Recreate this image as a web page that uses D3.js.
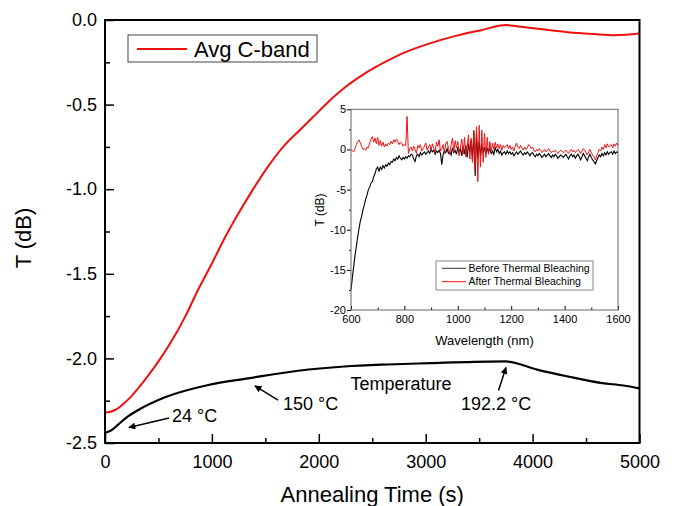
<!DOCTYPE html>
<html>
<head>
<meta charset="utf-8">
<script src="https://cdn.jsdelivr.net/npm/d3@7"></script>
<style>
body { margin:0; background:#fff; }
svg { display:block; font-family:"Liberation Sans", Arial, sans-serif; }
</style>
</head>
<body>
<div id="chart"></div>
<script>
// main chart: average C-band transmission while annealing
var cbandTime = [0,50,110,170,230,300,370,510,630,750,870,1000,1110,1230,1360,1510,1680,1840,2000,2120,2240,2440,2640,2800,3040,3280,3520,3750,3930,4090,4330,4570,4770,5000]
var cbandT = [-2.32,-2.315,-2.30,-2.27,-2.235,-2.185,-2.13,-2.009,-1.89,-1.753,-1.596,-1.439,-1.30,-1.163,-1.026,-0.88,-0.74,-0.64,-0.54,-0.465,-0.40,-0.312,-0.242,-0.193,-0.138,-0.094,-0.060,-0.030,-0.043,-0.055,-0.072,-0.083,-0.09,-0.08]

// temperature trace (drawn on the same axes)
var tempTime = [0,60,125,200,312,561,966,1340,1807,2240,2640,3040,3450,3750,4050,4330,4650,4850,5000]
var tempT = [-2.44,-2.425,-2.39,-2.35,-2.305,-2.23,-2.157,-2.118,-2.073,-2.048,-2.036,-2.028,-2.02,-2.018,-2.068,-2.107,-2.146,-2.16,-2.177]

var xTicks = [0,1000,2000,3000,4000,5000]
var xMinor = [500,1500,2500,3500,4500]
var yTicks = [0,-0.5,-1.0,-1.5,-2.0,-2.5]
var yMinor = [-0.25,-0.75,-1.25,-1.75,-2.25]

var notes = [
    { label:'Temperature', t:2297, v:-2.187 },
    { label:'150 °C', t:1665, v:-2.305, from:[1618,-2.246], to:[1403,-2.163] },
    { label:'192.2 °C', t:3330, v:-2.305, from:[3681,-2.19], to:[3751,-2.054] },
    { label:'24 °C', t:627, v:-2.374, from:[599,-2.352], to:[224,-2.408] }
]

// inset: spectrum before / after thermal bleaching, 600-1600 nm every 5 nm
var wavelength = d3.range(600, 1601, 5)
var beforeT = [
    -17.5,-16.0,-14.6,-13.2,-12.1,-10.9,-9.9,-8.9,-8.3,-7.5,
    -6.9,-6.2,-5.7,-5.0,-4.7,-4.2,-4.0,-3.4,-3.0,-2.4,
    -2.2,-2.7,-2.2,-2.5,-2.0,-2.3,-1.9,-2.1,-1.7,-1.9,
    -1.5,-1.6,-1.2,-1.4,-1.0,-1.2,-0.8,-1.1,-1.3,-1.0,
    -1.2,-0.9,-1.1,-0.8,-0.9,-0.6,-0.7,-1.2,-1.5,-0.8,
    -0.6,-0.9,-0.4,-0.7,-0.5,-0.3,-0.6,-0.4,-0.2,-0.5,
    0.0,-0.3,-0.1,-0.6,-0.2,-0.4,-0.1,-0.5,-1.9,-0.6,
    -0.2,-0.4,0.1,-0.5,-0.3,-0.7,0.2,-0.4,-0.1,-0.6,
    0.3,-0.5,0.2,-0.8,0.4,-0.6,0.5,-1.0,0.7,-0.4,
    1.2,-1.5,2.4,-3.3,2.0,-1.2,1.0,-0.8,0.6,-0.5,
    0.3,-0.6,0.2,-0.4,0.1,-0.5,-0.2,-0.6,0.3,-0.3,
    0.0,-0.5,-0.2,-0.7,-0.4,-0.3,-0.6,-0.2,-0.5,-0.3,
    -0.6,-0.4,-0.8,-0.5,-0.3,-0.6,-0.4,-0.2,-0.5,-0.7,
    -0.4,-0.6,-0.3,-0.5,-0.8,-0.5,-0.4,-0.7,-0.9,-0.6,
    -0.8,-0.5,-0.7,-1.0,-0.8,-0.6,-0.9,-0.7,-0.5,-0.8,
    -1.0,-0.7,-0.9,-0.6,-0.8,-1.1,-0.9,-0.7,-0.8,-1.0,
    -0.8,-0.6,-0.9,-1.2,-0.8,-0.6,-0.9,-0.7,-1.1,-0.8,
    -0.6,-0.9,-1.3,-0.9,-0.5,-0.8,-1.1,-1.4,-0.9,-0.6,
    -1.0,-1.3,-1.5,-1.8,-1.4,-1.0,-0.7,-0.9,-0.5,-0.8,
    -0.4,-0.7,-0.3,-0.6,-0.4,-0.3,-0.6,-0.2,-0.5,-0.3,
    -0.4]
var afterT = [
    0.0,-0.2,-0.3,0.1,0.6,1.0,1.2,0.8,0.4,0.0,
    0.1,-0.1,0.3,0.2,0.8,1.3,1.6,0.9,1.4,0.7,
    1.5,0.5,1.1,0.4,0.9,0.3,0.7,0.4,0.8,0.6,
    1.0,0.7,1.2,0.9,1.3,1.0,0.6,0.9,0.8,0.4,
    0.6,0.5,4.1,-0.5,0.1,0.3,-0.2,0.4,0.0,-0.5,
    0.5,0.2,0.6,-0.2,0.1,0.4,0.8,-0.1,0.3,0.6,
    -0.1,0.7,0.2,-0.4,0.9,0.4,1.2,-0.2,0.1,0.6,
    -0.5,0.8,1.0,0.1,-0.6,0.7,1.4,-0.3,1.1,0.2,
    1.0,-0.8,0.3,1.3,-0.6,1.5,-0.9,0.4,1.8,-1.2,
    1.4,-1.6,2.2,-2.6,2.8,-4.0,3.0,-2.2,2.4,-1.6,
    2.0,-1.0,1.5,-0.6,1.0,-0.2,0.8,0.0,0.9,0.2,
    0.7,0.1,0.6,-0.1,0.5,0.2,0.4,0.6,0.1,0.5,
    0.0,0.3,-0.2,0.4,0.8,0.3,0.1,0.5,0.2,-0.1,
    0.3,0.0,0.2,0.6,0.4,0.1,0.3,-0.1,-0.3,0.0,
    -0.2,0.1,-0.1,-0.4,-0.2,0.0,-0.3,-0.1,0.1,-0.2,
    -0.4,-0.2,-0.3,-0.1,-0.3,-0.5,-0.3,-0.1,-0.2,-0.4,
    -0.3,-0.1,-0.3,-0.5,-0.2,0.0,-0.3,-0.1,-0.4,-0.2,
    0.0,-0.2,-0.5,-0.2,0.1,-0.1,-0.4,-0.7,-0.3,0.0,
    -0.4,-0.7,-0.9,-1.3,-0.8,-0.4,0.0,-0.2,0.3,0.0,
    0.6,0.2,0.7,0.3,0.5,0.6,0.2,0.7,0.4,0.8,
    0.5]

var wlTicks = [600,800,1000,1200,1400,1600]
var wlMinor = [700,900,1100,1300,1500]
var insetTicks = [5,0,-5,-10,-15,-20]
var insetMinor = [2.5,-2.5,-7.5,-12.5,-17.5]

var width = 674, height = 506
var plot = { left:105, right:639.5, top:20, bottom:443 }
var inset = { left:351, right:618, top:109.3, bottom:310 }

var svg = d3.select('#chart').append('svg')
    .attr('width', width)
    .attr('height', height)

svg.append('defs').append('marker')
    .attr('id', 'arrow')
    .attr('viewBox', '0 0 10 10')
    .attr('refX', 9).attr('refY', 5)
    .attr('markerWidth', 9).attr('markerHeight', 7)
    .attr('markerUnits', 'userSpaceOnUse')
    .attr('orient', 'auto')
    .append('path')
        .attr('d', 'M0,0 L10,5 L0,10 z')
        .attr('fill', '#000')

var x = d3.scaleLinear().domain([0, 5000]).range([plot.left, plot.right])
var y = d3.scaleLinear().domain([-2.5, 0]).range([plot.bottom, plot.top])

function styleAxis(g, size, sw){
    g.select('.domain').remove()
    g.selectAll('line').attr('stroke', '#000').attr('stroke-width', sw)
    g.selectAll('text').attr('fill', '#000').attr('font-size', size)
        .attr('font-family', '"Liberation Sans", Arial, sans-serif')
}

// main axes, ticks pointing into the plot
svg.append('g')
    .attr('transform', 'translate(0,' + plot.bottom + ')')
    .call(d3.axisBottom(x).tickValues(xTicks).tickSizeInner(-9).tickSizeOuter(0).tickPadding(12)
        .tickFormat(function(d){ return String(d) }))
    .call(styleAxis, 18, 1.5)
svg.append('g')
    .attr('transform', 'translate(0,' + plot.bottom + ')')
    .call(d3.axisBottom(x).tickValues(xMinor).tickSizeInner(-5).tickSizeOuter(0).tickFormat(''))
    .call(styleAxis, 18, 1.5)
svg.append('g')
    .attr('transform', 'translate(' + plot.left + ',0)')
    .call(d3.axisLeft(y).tickValues(yTicks).tickSizeInner(-9).tickSizeOuter(0).tickPadding(8)
        .tickFormat(function(d){ return d.toFixed(1) }))
    .call(styleAxis, 18, 1.5)
svg.append('g')
    .attr('transform', 'translate(' + plot.left + ',0)')
    .call(d3.axisLeft(y).tickValues(yMinor).tickSizeInner(-5).tickSizeOuter(0).tickFormat(''))
    .call(styleAxis, 18, 1.5)

var mainLine = d3.line()
    .x(function(d){ return x(d[0]) })
    .y(function(d){ return y(d[1]) })
    .curve(d3.curveMonotoneX)

svg.append('path')
    .datum(d3.zip(tempTime, tempT))
    .attr('d', mainLine)
    .attr('fill', 'none')
    .attr('stroke', '#000')
    .attr('stroke-width', 2.2)

svg.append('path')
    .datum(d3.zip(cbandTime, cbandT))
    .attr('d', mainLine)
    .attr('fill', 'none')
    .attr('stroke', '#f01010')
    .attr('stroke-width', 2)

svg.append('rect')
    .attr('x', plot.left).attr('y', plot.top)
    .attr('width', plot.right - plot.left)
    .attr('height', plot.bottom - plot.top)
    .attr('fill', 'none')
    .attr('stroke', '#000')
    .attr('stroke-width', 2)

// axis titles
svg.append('text')
    .attr('x', (plot.left + plot.right) / 2)
    .attr('y', 502)
    .attr('text-anchor', 'middle')
    .attr('font-size', 22)
    .text('Annealing Time (s)')
svg.append('text')
    .attr('transform', 'translate(31,238) rotate(-90)')
    .attr('text-anchor', 'middle')
    .attr('font-size', 22)
    .text('T (dB)')

// legend
var legend = svg.append('g')
legend.append('rect')
    .attr('x', 128).attr('y', 35).attr('width', 189).attr('height', 27)
    .attr('fill', '#fff').attr('stroke', '#444').attr('stroke-width', 1)
legend.append('line')
    .attr('x1', 137).attr('x2', 187).attr('y1', 49).attr('y2', 49)
    .attr('stroke', '#f01010').attr('stroke-width', 2)
legend.append('text')
    .attr('x', 194).attr('y', 56.5)
    .attr('font-size', 22)
    .text('Avg C-band')

// annotations
notes.forEach(function(n){
    svg.append('text')
        .attr('x', x(n.t)).attr('y', y(n.v))
        .attr('font-size', 18)
        .text(n.label)
    if (n.from){
        svg.append('line')
            .attr('x1', x(n.from[0])).attr('y1', y(n.from[1]))
            .attr('x2', x(n.to[0])).attr('y2', y(n.to[1]))
            .attr('stroke', '#000').attr('stroke-width', 1.5)
            .attr('marker-end', 'url(#arrow)')
    }
})

// inset
var ix = d3.scaleLinear().domain([600, 1600]).range([inset.left, inset.right])
var iy = d3.scaleLinear().domain([-20, 5]).range([inset.bottom, inset.top])

var ig = svg.append('g')
ig.append('rect')
    .attr('x', inset.left).attr('y', inset.top)
    .attr('width', inset.right - inset.left)
    .attr('height', inset.bottom - inset.top)
    .attr('fill', '#fff')

ig.append('g')
    .attr('transform', 'translate(0,' + inset.bottom + ')')
    .call(d3.axisBottom(ix).tickValues(wlTicks).tickSizeInner(-4).tickSizeOuter(0).tickPadding(5)
        .tickFormat(function(d){ return String(d) }))
    .call(styleAxis, 11, 1)
ig.append('g')
    .attr('transform', 'translate(0,' + inset.bottom + ')')
    .call(d3.axisBottom(ix).tickValues(wlMinor).tickSizeInner(-2.5).tickSizeOuter(0).tickFormat(''))
    .call(styleAxis, 11, 1)
ig.append('g')
    .attr('transform', 'translate(' + inset.left + ',0)')
    .call(d3.axisLeft(iy).tickValues(insetTicks).tickSizeInner(4).tickSizeOuter(0).tickPadding(1)
        .tickFormat(function(d){ return String(d) }))
    .call(styleAxis, 11, 1)
ig.append('g')
    .attr('transform', 'translate(' + inset.left + ',0)')
    .call(d3.axisLeft(iy).tickValues(insetMinor).tickSizeInner(2).tickSizeOuter(0).tickFormat(''))
    .call(styleAxis, 11, 1)

var insetLine = d3.line()
    .x(function(d){ return ix(d[0]) })
    .y(function(d){ return iy(d[1]) })

ig.append('path')
    .datum(d3.zip(wavelength, beforeT))
    .attr('d', insetLine)
    .attr('fill', 'none')
    .attr('stroke', '#000')
    .attr('stroke-width', 1.1)
ig.append('path')
    .datum(d3.zip(wavelength, afterT))
    .attr('d', insetLine)
    .attr('fill', 'none')
    .attr('stroke', '#f01010')
    .attr('stroke-width', 1)

ig.append('rect')
    .attr('x', inset.left).attr('y', inset.top)
    .attr('width', inset.right - inset.left)
    .attr('height', inset.bottom - inset.top)
    .attr('fill', 'none')
    .attr('stroke', '#666')
    .attr('stroke-width', 1)

ig.append('text')
    .attr('x', (inset.left + inset.right) / 2)
    .attr('y', 344.5)
    .attr('text-anchor', 'middle')
    .attr('font-size', 13)
    .text('Wavelength (nm)')
ig.append('text')
    .attr('transform', 'translate(323.5,210) rotate(-90)')
    .attr('text-anchor', 'middle')
    .attr('font-size', 12)
    .text('T (dB)')

var ilegend = ig.append('g')
var ilegendItems = ['Before Thermal Bleaching', 'After Thermal Bleaching']
var ilegendColors = ['#333', '#f01010']
ilegend.append('rect')
    .attr('x', 436).attr('y', 261).attr('width', 157).attr('height', 29)
    .attr('fill', '#fff').attr('stroke', '#888').attr('stroke-width', 1)
ilegendItems.forEach(function(d, i){
    ilegend.append('line')
        .attr('x1', 442).attr('x2', 466)
        .attr('y1', 268.3 + i * 13.4).attr('y2', 268.3 + i * 13.4)
        .attr('stroke', ilegendColors[i]).attr('stroke-width', 1)
    ilegend.append('text')
        .attr('x', 468.5).attr('y', 272 + i * 13.4)
        .attr('font-size', 10.5)
        .text(d)
})
</script>
</body>
</html>
